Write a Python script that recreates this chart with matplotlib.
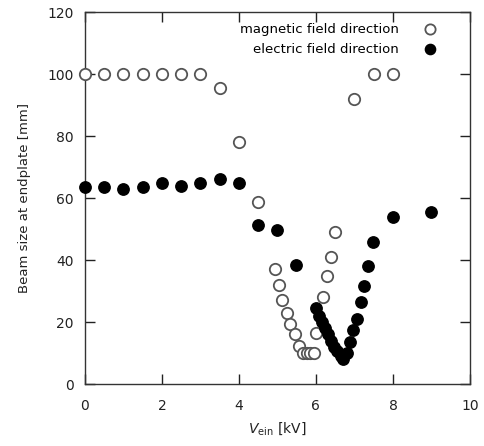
import matplotlib
matplotlib.use("Agg")
import matplotlib.pyplot as plt

plt.rcParams['font.family'] = ['DejaVu Sans']

# Beam size vs einzel-lens voltage
v_mag = [0.0, 0.5, 1.0, 1.5, 2.0, 2.5, 3.0, 3.5, 4.0, 4.5, 4.93, 5.03, 5.12, 5.25,
         5.33, 5.45, 5.55, 5.66, 5.76, 5.84, 5.95, 6.0, 6.18, 6.29, 6.39, 6.49,
         7.0, 7.5, 8.0]
size_mag = [100, 100, 100, 100, 100, 100, 100, 95.5, 78, 58.7, 37, 32, 27, 23,
            19.5, 16, 12.3, 10, 10, 10, 10, 16.5, 28, 35, 41, 49,
            92, 100, 100]

v_ele = [0.0, 0.5, 1.0, 1.5, 2.0, 2.5, 3.0, 3.5, 4.0, 4.5, 4.98, 5.48,
         6.0, 6.08, 6.16, 6.24, 6.32, 6.4, 6.48, 6.56, 6.64, 6.7,
         6.8, 6.88, 6.96, 7.06, 7.16, 7.26, 7.36, 7.48, 8.0, 9.0]
size_ele = [63.5, 63.5, 63, 63.5, 64.8, 64, 64.8, 66, 64.8, 51.3, 49.7, 38.4,
            24.5, 22, 20, 18, 16, 14, 12, 10.5, 9, 8,
            10, 13.5, 17.5, 21, 26.5, 31.5, 38, 45.8, 54, 55.5]

x_ticks = [0, 2, 4, 6, 8, 10]
y_ticks = [0, 20, 40, 60, 80, 100, 120]

fig = plt.figure(figsize=(4.85, 4.46), dpi=100)
ax = fig.add_axes([0.175, 0.139, 0.794, 0.834])

ax.plot(v_mag, size_mag, linestyle='none', marker='o', markersize=8.2,
        markerfacecolor='white', markeredgecolor='#555555', markeredgewidth=1.3,
        label='magnetic field direction', clip_on=False, zorder=3)
ax.plot(v_ele, size_ele, linestyle='none', marker='o', markersize=8.2,
        markerfacecolor='black', markeredgecolor='black', markeredgewidth=1.0,
        label='electric field direction', clip_on=False, zorder=4)

ax.set_xlim(0, 10)
ax.set_ylim(0, 120)
ax.set_xticks(x_ticks)
ax.set_yticks(y_ticks)
ax.tick_params(axis='both', direction='in', length=7, width=1, top=True, right=True,
               labelsize=10, colors='#222222')
ax.tick_params(axis='x', pad=11)
ax.tick_params(axis='y', pad=8)
for s in ax.spines.values():
    s.set_linewidth(1.0)
    s.set_color('#333333')

ax.set_xlabel(r'$V_{\mathrm{ein}}$ [kV]', fontsize=10, color='#222222', labelpad=5)
ax.set_ylabel('Beam size at endplate [mm]', fontsize=9.5, color='#222222', labelpad=12)

ax.legend(loc='upper right', bbox_to_anchor=(0.948, 0.995), markerfirst=False,
          frameon=False, fontsize=9.5, handletextpad=1.6, labelspacing=0.55,
          borderaxespad=0.3, handlelength=1.6, markerscale=0.9)

fig.savefig('out.png', dpi=100)
